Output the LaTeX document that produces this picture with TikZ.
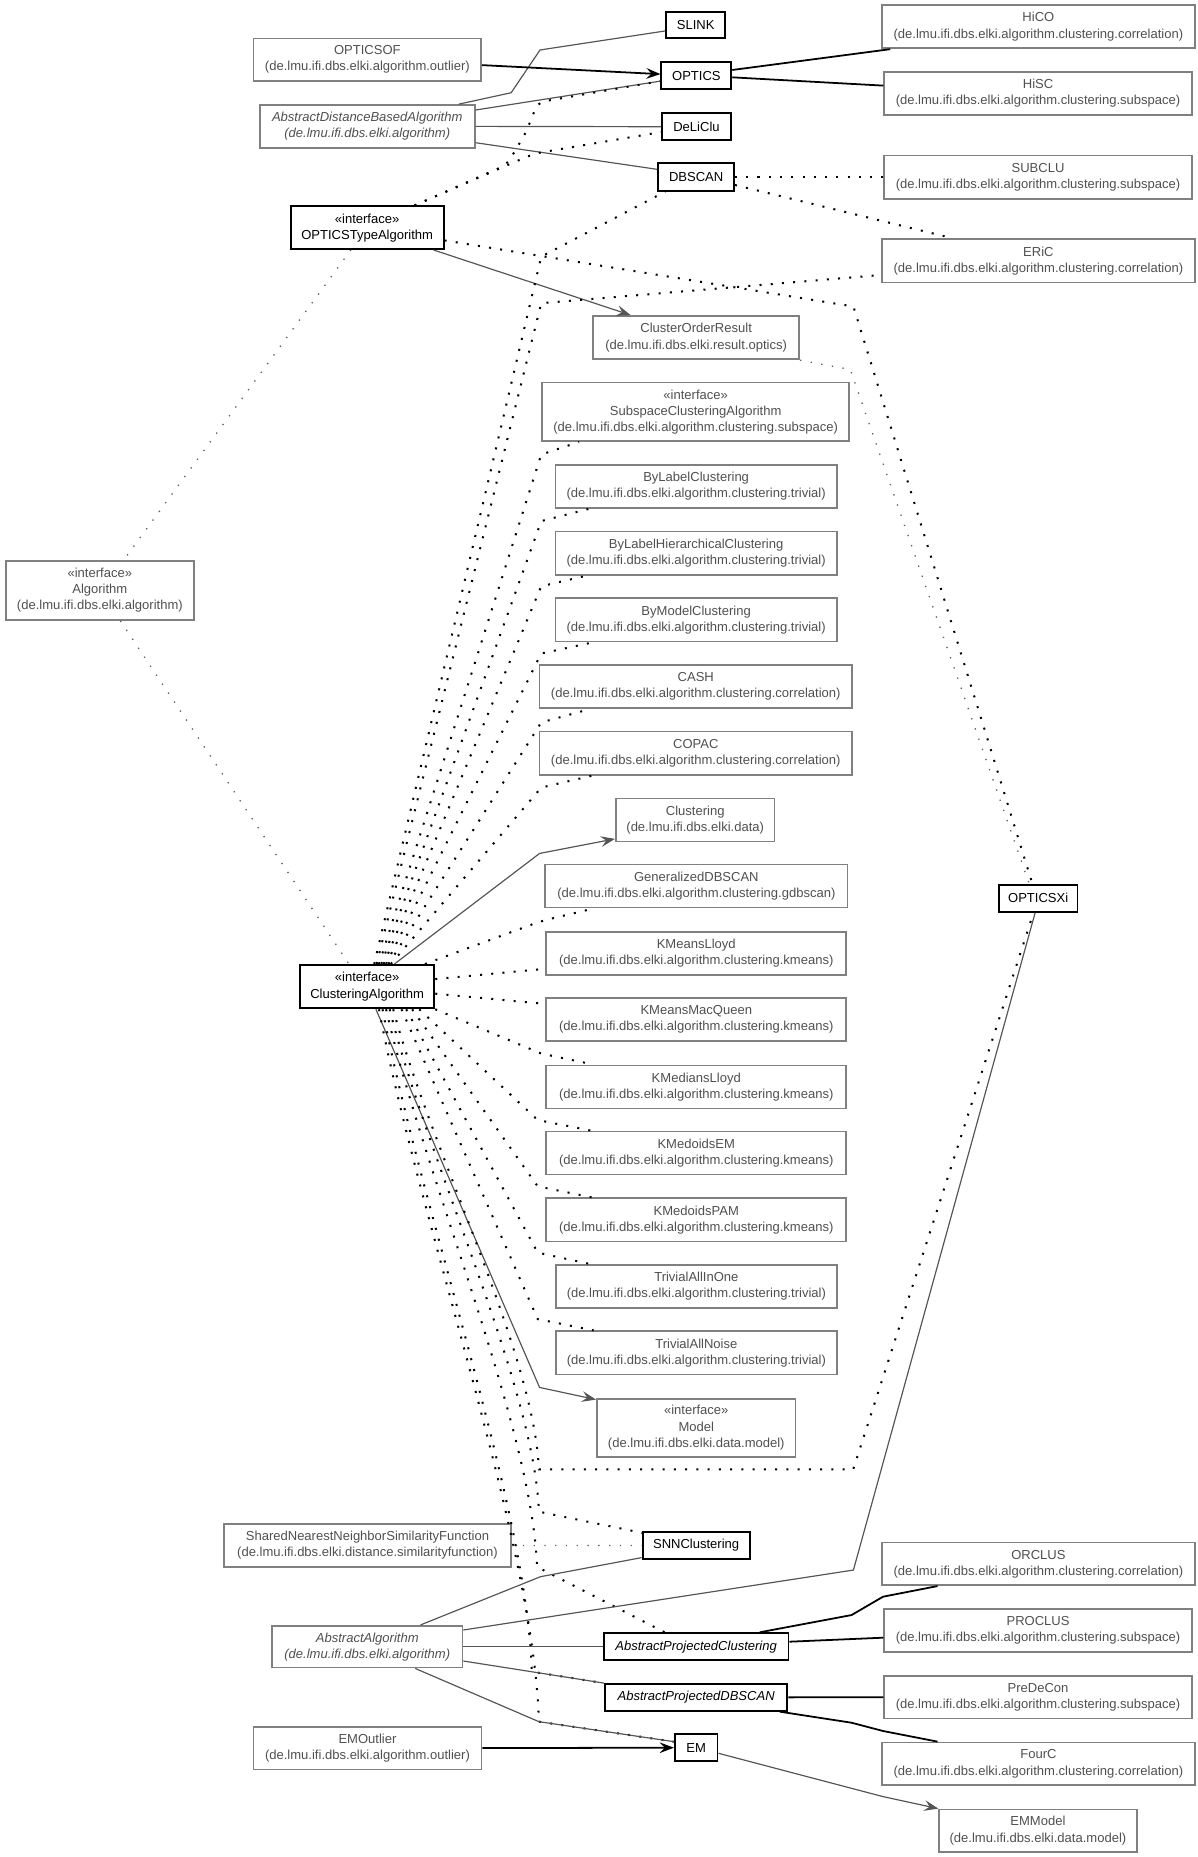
\documentclass[tikz,border=0pt]{standalone}
\usepackage{fontspec}
\setmainfont{Liberation Sans}
\usetikzlibrary{arrows.meta,calc}
\definecolor{boxgray}{RGB}{128,128,128}
\definecolor{txtgray}{RGB}{80,80,80}
\definecolor{linegray}{RGB}{85,85,85}
\definecolor{dotgray}{RGB}{95,95,95}
\newcommand\fs{\fontsize{11}{13.6}\selectfont}
\tikzset{
  cls/.style={rectangle, inner sep=0pt, align=center, fill=white, font=\fs},
  gcls/.style={cls, draw=boxgray, line width=1.45pt, text=txtgray},
  bcls/.style={cls, draw=black, line width=1.6pt, text=black},
  gline/.style={draw=linegray, line width=1pt},
  bline/.style={draw=black, line width=1.5pt},
  garrow/.style={gline, -{Stealth[length=12pt,width=9pt,inset=4.5pt]}},
  barrow/.style={bline, -{Stealth[length=12pt,width=9pt,inset=4.5pt]}},
  rdot/.style={draw=black, line width=1.7pt, dash pattern=on 1.7pt off 7.8pt},
  gdot/.style={draw=dotgray, line width=1.1pt, dash pattern=on 1.1pt off 8pt},
}
\begin{document}
\begin{tikzpicture}[x=1pt,y=-1pt]
\useasboundingbox (0,0) rectangle (1011,1568);

% ---------- column 1 ----------
\node[gcls, minimum width=192.3pt, minimum height=36pt] (opticsof) at (310.2,50.4) {OPTICSOF\\(de.lmu.ifi.dbs.elki.algorithm.outlier)};
\node[gcls, minimum width=181.4pt, minimum height=36pt, font=\fs\itshape] (adba) at (310.1,106.7) {AbstractDistanceBasedAlgorithm\\(de.lmu.ifi.dbs.elki.algorithm)};
\node[bcls, minimum width=129.2pt, minimum height=36pt] (ota) at (310,192.3) {«interface»\\OPTICSTypeAlgorithm};
\node[gcls, minimum width=158.6pt, minimum height=49.8pt] (algo) at (84.3,498.6) {«interface»\\Algorithm\\(de.lmu.ifi.dbs.elki.algorithm)};
\node[bcls, minimum width=113.4pt, minimum height=36.6pt] (ca) at (310,833.1) {«interface»\\ClusteringAlgorithm};
\node[gcls, minimum width=242.6pt, minimum height=36pt] (snnsf) at (310.3,1305) {SharedNearestNeighborSimilarityFunction\\(de.lmu.ifi.dbs.elki.distance.similarityfunction)};
\node[gcls, minimum width=160.8pt, minimum height=35.3pt, font=\fs\itshape] (aa) at (310.1,1390.4) {AbstractAlgorithm\\(de.lmu.ifi.dbs.elki.algorithm)};
\node[gcls, minimum width=192.6pt, minimum height=36pt] (emoutlier) at (310.3,1476) {EMOutlier\\(de.lmu.ifi.dbs.elki.algorithm.outlier)};

% ---------- column 2 ----------
\node[bcls, minimum width=50pt, minimum height=22.5pt] (slink) at (587.4,21.2) {SLINK};
\node[bcls, minimum width=59pt, minimum height=22.8pt] (optics) at (588,64) {OPTICS};
\node[bcls, minimum width=57.8pt, minimum height=22.5pt] (deliclu) at (588.1,107) {DeLiClu};
\node[bcls, minimum width=64pt, minimum height=23pt] (dbscan) at (587.8,149.5) {DBSCAN};
\node[gcls, minimum width=174pt, minimum height=36.6pt] (cor) at (587.8,285.1) {ClusterOrderResult\\(de.lmu.ifi.dbs.elki.result.optics)};
\node[gcls, minimum width=259pt, minimum height=49.5pt] (sca) at (587.4,347.7) {«interface»\\SubspaceClusteringAlgorithm\\(de.lmu.ifi.dbs.elki.algorithm.clustering.subspace)};
\node[gcls, minimum width=237.5pt, minimum height=36.5pt] (bylabel) at (587.8,410.7) {ByLabelClustering\\(de.lmu.ifi.dbs.elki.algorithm.clustering.trivial)};
\node[gcls, minimum width=237.5pt, minimum height=36.5pt] (bylabelh) at (587.8,467) {ByLabelHierarchicalClustering\\(de.lmu.ifi.dbs.elki.algorithm.clustering.trivial)};
\node[gcls, minimum width=237.5pt, minimum height=36.5pt] (bymodel) at (587.8,523.3) {ByModelClustering\\(de.lmu.ifi.dbs.elki.algorithm.clustering.trivial)};
\node[gcls, minimum width=264pt, minimum height=36.5pt] (cash) at (587.5,579.7) {CASH\\(de.lmu.ifi.dbs.elki.algorithm.clustering.correlation)};
\node[gcls, minimum width=264pt, minimum height=36.5pt] (copac) at (587.5,636) {COPAC\\(de.lmu.ifi.dbs.elki.algorithm.clustering.correlation)};
\node[gcls, minimum width=134pt, minimum height=36.2pt] (clustering) at (587,692.4) {Clustering\\(de.lmu.ifi.dbs.elki.data)};
\node[gcls, minimum width=255.3pt, minimum height=36.3pt] (gdbscan) at (588,748.2) {GeneralizedDBSCAN\\(de.lmu.ifi.dbs.elki.algorithm.clustering.gdbscan)};
\node[gcls, minimum width=253.2pt, minimum height=36.4pt] (kml) at (587.9,805.1) {KMeansLloyd\\(de.lmu.ifi.dbs.elki.algorithm.clustering.kmeans)};
\node[gcls, minimum width=253.2pt, minimum height=36.4pt] (kmmq) at (587.9,861) {KMeansMacQueen\\(de.lmu.ifi.dbs.elki.algorithm.clustering.kmeans)};
\node[gcls, minimum width=253.2pt, minimum height=36.4pt] (kmedl) at (587.9,917.8) {KMediansLloyd\\(de.lmu.ifi.dbs.elki.algorithm.clustering.kmeans)};
\node[gcls, minimum width=253.2pt, minimum height=36.4pt] (kmedem) at (587.9,973.5) {KMedoidsEM\\(de.lmu.ifi.dbs.elki.algorithm.clustering.kmeans)};
\node[gcls, minimum width=253.2pt, minimum height=36.4pt] (kmedpam) at (587.9,1030) {KMedoidsPAM\\(de.lmu.ifi.dbs.elki.algorithm.clustering.kmeans)};
\node[gcls, minimum width=237pt, minimum height=36.4pt] (trone) at (588,1086.2) {TrivialAllInOne\\(de.lmu.ifi.dbs.elki.algorithm.clustering.trivial)};
\node[gcls, minimum width=237pt, minimum height=36.4pt] (trnoise) at (588,1142.3) {TrivialAllNoise\\(de.lmu.ifi.dbs.elki.algorithm.clustering.trivial)};
\node[gcls, minimum width=167.8pt, minimum height=49pt] (model) at (587.9,1205.5) {«interface»\\Model\\(de.lmu.ifi.dbs.elki.data.model)};
\node[bcls, minimum width=90.5pt, minimum height=22.6pt] (snn) at (587.8,1304.9) {SNNClustering};
\node[bcls, minimum width=156pt, minimum height=22.7pt, font=\fs\itshape] (apc) at (587.8,1390.4) {AbstractProjectedClustering};
\node[bcls, minimum width=154pt, minimum height=22.5pt, font=\fs\itshape] (apdbscan) at (587.8,1433.2) {AbstractProjectedDBSCAN};
\node[bcls, minimum width=36pt, minimum height=22.6pt] (em) at (587.8,1475.7) {EM};

% ---------- column 3 ----------
\node[gcls, minimum width=264.4pt, minimum height=36.6pt] (hico) at (876.8,22.5) {HiCO\\(de.lmu.ifi.dbs.elki.algorithm.clustering.correlation)};
\node[gcls, minimum width=259.8pt, minimum height=36.6pt] (hisc) at (876.5,78.8) {HiSC\\(de.lmu.ifi.dbs.elki.algorithm.clustering.subspace)};
\node[gcls, minimum width=259.8pt, minimum height=36.6pt] (subclu) at (876.5,149.7) {SUBCLU\\(de.lmu.ifi.dbs.elki.algorithm.clustering.subspace)};
\node[gcls, minimum width=264.4pt, minimum height=36.6pt] (eric) at (876.8,220.3) {ERiC\\(de.lmu.ifi.dbs.elki.algorithm.clustering.correlation)};
\node[bcls, minimum width=66.4pt, minimum height=23pt] (opticsxi) at (876.6,758.5) {OPTICSXi};
\node[gcls, minimum width=264.4pt, minimum height=36pt] (orclus) at (876.8,1320.5) {ORCLUS\\(de.lmu.ifi.dbs.elki.algorithm.clustering.correlation)};
\node[gcls, minimum width=259.8pt, minimum height=36pt] (proclus) at (876.5,1376.6) {PROCLUS\\(de.lmu.ifi.dbs.elki.algorithm.clustering.subspace)};
\node[gcls, minimum width=259.8pt, minimum height=36pt] (predecon) at (876.5,1433) {PreDeCon\\(de.lmu.ifi.dbs.elki.algorithm.clustering.subspace)};
\node[gcls, minimum width=264.4pt, minimum height=36pt] (fourc) at (876.8,1489.3) {FourC\\(de.lmu.ifi.dbs.elki.algorithm.clustering.correlation)};
\node[gcls, minimum width=166.7pt, minimum height=35.7pt] (emmodel) at (876.4,1545.7) {EMModel\\(de.lmu.ifi.dbs.elki.data.model)};

% ---------- top connectors ----------
\draw[gline] ($(adba.north west)+(168.6,0)$) -- (431.6,78.3) -- (456,42.2) -- ($(slink.south west)+(0,-7.1)$);
\draw[gline] ($(adba.east)+(0,-13.8)$) -- ($(optics.west)+(0,4.5)$);
\draw[gline] (adba.east) -- (deliclu.west);
\draw[gline] ($(adba.east)+(0,13.8)$) -- ($(dbscan.west)+(0,-6.5)$);
\draw[barrow] ($(opticsof.east)+(0,4.6)$) -- ($(optics.west)+(0,-1.4)$);
\draw[bline] ($(optics.east)+(0,-4.9)$) -- ($(hico.south west)+(7.8,0)$);
\draw[bline] ($(optics.east)+(0,1.3)$) -- ($(hisc.west)+(0,-6.5)$);
\draw[rdot] ($(dbscan.east)+(0,-0.3)$) -- ($(subclu.west)+(0,-0.5)$);
\draw[rdot] ($(dbscan.east)+(0,6.7)$) -- ($(eric.north west)+(61,0)$);

% OPTICSTypeAlgorithm
\draw[rdot, rounded corners=6pt] ($(ota.north)+(40,0)$) -- (428,139) -- (444,112) -- (454.2,86.4) -- ($(optics.west)+(0,4.5)$);
\draw[rdot, rounded corners=6pt] ($(ota.north)+(40,0)$) -- (434,137) -- (452,129.5) -- ($(deliclu.west)+(0,4.5)$);
\draw[rdot] ($(ota.east)+(0,10.7)$) -- (720.6,258.8) -- ($(opticsxi.north)+(-4.9,0)$);
\draw[garrow] ($(ota.south east)+(-9.3,0)$) -- ($(cor.north west)+(32.4,0)$);
\draw[gdot] (cor.south east) -- (718,312) -- ($(opticsxi.north)+(-7.6,0)$);
\draw[gdot] ($(ota.south)+(-13.8,0)$) -- ($(algo.north)+(20.1,0)$);
\draw[gdot] ($(algo.south)+(17.3,0)$) -- ($(ca.north west)+(42.2,0)$);

% ClusteringAlgorithm: upper fan
\draw[rdot] ($(ca.north)+(6,0)$) -- (457,216.7) -- ($(dbscan.south west)+(6.6,0)$);
\draw[rdot] ($(ca.north)+(8,0)$) -- (457,256) -- ($(eric.west)+(0,11.9)$);
\draw[rdot] ($(ca.north)+(10,0)$) -- (457,383.8) -- ($(sca.south west)+(31.7,0)$);
\draw[rdot] ($(ca.north)+(12,0)$) -- (457,440) -- ($(bylabel.south west)+(29,0)$);
\draw[rdot] ($(ca.north)+(14,0)$) -- (457,495) -- ($(bylabelh.south west)+(27.5,0)$);
\draw[rdot] ($(ca.north)+(16,0)$) -- (457,551.8) -- ($(bymodel.south west)+(33,0)$);
\draw[rdot] ($(ca.north)+(18,0)$) -- (457,610) -- ($(cash.south west)+(43.5,0)$);
\draw[rdot] ($(ca.north)+(20,0)$) -- (457,665) -- ($(copac.south west)+(45.2,0)$);
\draw[garrow] ($(ca.north)+(23,0)$) -- (455.6,720.6) -- ($(clustering.south west)+(0,-2.9)$);
\draw[rdot, rounded corners=8pt] ($(ca.north east)+(-8.7,0)$) -- (457,777.7) -- ($(gdbscan.south west)+(41.7,0)$);
\draw[rdot] ($(ca.east)+(0,-6.4)$) -- ($(kml.west)+(0,12.9)$);
\draw[rdot] ($(ca.east)+(0,5.9)$) -- ($(kmmq.west)+(0,-13.3)$);

% ClusteringAlgorithm: lower fan
\draw[rdot] (ca.south east) -- (457,889.6) -- ($(kmedl.north west)+(40.7,0)$);
\draw[rdot] ($(ca.south)+(44,0)$) -- (454,945.7) -- ($(kmedem.north west)+(38,0)$);
\draw[rdot] ($(ca.south)+(38,0)$) -- (454,1001.7) -- ($(kmedpam.north west)+(39.4,0)$);
\draw[rdot] ($(ca.south)+(33,0)$) -- (454,1057.7) -- ($(trone.north west)+(29.5,0)$);
\draw[rdot] ($(ca.south)+(29,0)$) -- (454,1113.8) -- ($(trnoise.north west)+(32.5,0)$);
\draw[garrow] ($(ca.south)+(7.4,0)$) -- (455.6,1171.5) -- ($(model.north west)+(0,1.5)$);

% ClusteringAlgorithm: bottom bundle
\draw[rdot] ($(ca.south)+(22,0)$) .. controls (362.8,968.2) and (451.3,1143.4) .. (455,1240.7) -- (720.4,1240.7) -- ($(opticsxi.south)+(-4,0)$);
\draw[rdot] ($(ca.south)+(19,0)$) .. controls (360.5,978.9) and (451.2,1170.2) .. (455,1276.4) -- ($(snn.north west)+(0.5,1.5)$);
\draw[rdot] ($(ca.south)+(16,0)$) .. controls (357.9,992.9) and (449.6,1205.1) .. (453.4,1323) -- ($(apc.north west)+(52.2,0)$);
\draw[rdot] ($(ca.south)+(13,0)$) .. controls (354.5,1019.4) and (445.2,1271.5) .. (449,1411.5) -- (apdbscan.north west);
\draw[rdot] ($(ca.south)+(10,0)$) .. controls (353.8,1032.1) and (451,1303.1) .. (455,1453.7) -- ($(em.west)+(0,-5.1)$);

% AbstractAlgorithm and bottom
\draw[gdot] (snnsf.east) -- (snn.west);
\draw[gline] ($(aa.north)+(45,0)$) -- (456.4,1331.3) -- ($(snn.south west)+(0,-1.8)$);
\draw[gline] ($(aa.north east)+(0,4.3)$) -- (720.6,1325.7) -- ($(opticsxi.south)+(-2.6,0)$);
\draw[gline] (aa.east) -- (apc.west);
\draw[gline] ($(aa.east)+(0,12.1)$) -- (apdbscan.north west);
\draw[gline] ($(aa.south)+(40.5,0)$) -- (455,1453.7) -- ($(em.west)+(0,-5.1)$);
\draw[barrow] (emoutlier.east) -- (em.west);
\draw[garrow] ($(em.east)+(0,4.7)$) -- (745.6,1517) -- (emmodel.north west);
\draw[bline] ($(apc.north west)+(132.5,0)$) -- (719,1363.7) -- (745.6,1348.2) -- ($(orclus.south west)+(47.7,0)$);
\draw[bline] ($(apc.east)+(0,-4.2)$) -- ($(proclus.west)+(0,6.2)$);
\draw[bline] (apdbscan.east) -- (predecon.west);
\draw[bline] ($(apdbscan.south east)+(-7.3,0)$) -- (719,1454.6) -- (745.6,1461.6) -- ($(fourc.north west)+(47.7,0)$);
\end{tikzpicture}
\end{document}
